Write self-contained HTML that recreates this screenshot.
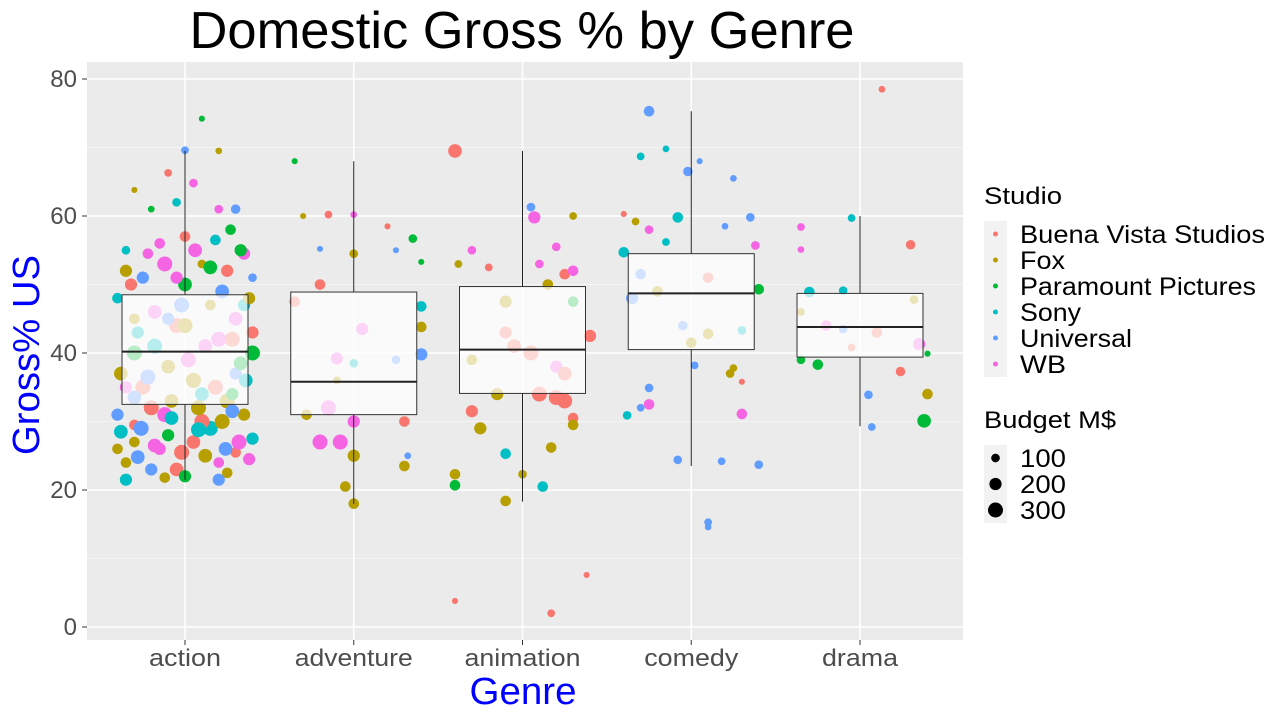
<!DOCTYPE html>
<html><head><meta charset="utf-8"><style>
body{margin:0;background:#fff}
svg text{font-family:"Liberation Sans",Arial,sans-serif}
</style></head><body>
<svg id="chart" width="1280" height="720" xmlns="http://www.w3.org/2000/svg">
<rect width="1280" height="720" fill="#fff"/>
<text x="522" y="48" font-size="52" text-anchor="middle" textLength="665" lengthAdjust="spacingAndGlyphs">Domestic Gross % by Genre</text>
<rect x="87" y="62" width="876" height="578" fill="#EBEBEB"/>
<g id="grid"></g><g id="pts"></g><g id="boxes"></g><g id="axes"></g>
<text x="523" y="704" font-size="38" fill="#0000ff" text-anchor="middle" textLength="107" lengthAdjust="spacingAndGlyphs">Genre</text>
<text transform="translate(39,355) rotate(-90)" font-size="38" fill="#0000ff" text-anchor="middle" textLength="200" lengthAdjust="spacingAndGlyphs">Gross% US</text>
<g id="legend"></g>
</svg>
<script>
const categories=["action","adventure","animation","comedy","drama"];
const catWidths=[72,118,116,94,76];
const studios=["Buena Vista Studios","Fox","Paramount Pictures","Sony","Universal","WB"];
const studioWidths=[245,45,236,61,112,46];
const studioColors=["#F8766D","#B79F00","#00BA38","#00BFC4","#619CFF","#F564E3"];
const yTicks=[0,20,40,60,80];
const sizeTicks=[100,200,300];
// box stats: [lowerWhisker,q1,median,q3,upperWhisker]
const boxStats=[[21.5,32.5,40.2,48.5,69.5],[18,31,35.8,48.9,68],[18.3,34.1,40.5,49.7,69.5],[23.5,40.5,48.7,54.5,75.3],[29.3,39.4,43.8,48.7,60]];
// points: genre, jitter, value, studio, budget
const points=[
[0,-0.3,29.5,0,150],[0,0.1,74.2,2,50],[0,0.2,69.5,1,60],[0,0,69.6,4,80],[0,-0.1,66.3,0,80],[0,0.05,64.8,5,100],[0,-0.3,63.8,1,50],[0,0.3,61,4,120],[0,0.2,61,5,100],[0,-0.2,61,2,60],[0,-0.35,55,3,100],[0,0.35,54.5,5,200],[0,0.33,55,2,200],[0,-0.15,56,5,150],[0,0.1,53,1,100],[0,0.25,52,0,200],[0,-0.25,51,4,200],[0,0.4,51,4,100],[0,0,50,2,250],[0,-0.4,48,3,150],[0,0.15,47,1,150],[0,-0.05,44,0,300],[0,0.2,42,5,300],[0,-0.3,40,2,300],[0,0.4,40,2,300],[0,-0.1,38,1,250],[0,0.3,37,4,200],[0,-0.35,35,5,200],[0,0.1,34,3,250],[0,-0.2,32,0,300],[0,0.25,33,1,300],[0,-0.4,31,4,200],[0,0.35,31,1,200],[0,0.15,29,3,300],[0,-0.1,28,2,200],[0,0.4,27.5,3,200],[0,-0.3,27,1,150],[0,0.05,27,0,250],[0,-0.15,26,5,200],[0,0.3,25.5,0,150],[0,-0.35,24,1,150],[0,0.2,24,5,150],[0,-0.2,23,4,200],[0,-0.05,23,0,250],[0,-0.35,21.5,3,200],[0,0.2,21.5,4,200],[0,0,22,2,200],[0,-0.25,35,0,300],[0,0.05,36,1,300],[0,0.1,30,0,300],[0,-0.1,45,4,200],[0,0.3,45,5,250],[0,0.38,24.5,5,200],[0,-0.22,54.5,5,150],[0,0.0,57,0,150],[0,0.27,58,2,150],[0,-0.05,51,5,200],[0,0.22,49,4,250],[0,-0.3,45,1,150],[0,-0.38,28.5,3,250],[0,0.08,28.8,3,300],[0,-0.18,26.5,5,250],[0,0.28,34,2,200],[0,-0.08,33,1,250],[0,0.12,41,5,250],[0,-0.28,43,3,200],[0,0.35,47,3,200],
[0,-0.12,53,5,300],[0,0.06,55,5,250],[0,0.18,56.5,3,150],[0,-0.32,50,0,200],[0,0.38,48,1,200],[0,-0.02,47,4,300],[0,0.28,42,0,300],[0,-0.18,41,3,300],[0,0.02,39,5,300],[0,-0.38,37,1,250],[0,0.36,36,3,250],[0,-0.12,31,5,300],[0,0.22,30,1,300],[0,-0.26,29,4,300],[0,0.12,25,1,250],[0,-0.02,25.5,0,300],[0,0.32,27,5,300],[0,-0.4,26,1,150],[0,0.25,22.5,1,150],[0,-0.12,21.8,1,150],[0,0.15,52.5,2,250],[0,-0.35,52,1,200],[0,0.4,43,0,200],[0,-0.05,62,3,100],[0,0.33,38.5,2,250],[0,-0.22,36.5,4,300],[0,0.18,35,0,300],[0,-0.08,30.5,3,250],[0,0.08,32,1,300],[0,0.28,31.5,4,250],[0,-0.3,33.5,4,250],[0,0.0,44,1,300],[0,-0.18,46,5,250],[0,0.24,26,4,250],[0,-0.28,24.8,4,250],
[1,-0.35,68,2,50],[1,-0.3,60,1,50],[1,-0.15,60.2,0,80],[1,0.0,60.2,5,60],[1,-0.2,55.2,4,50],[1,0,54.5,1,100],[1,0.2,58.5,0,50],[1,0.35,56.7,2,100],[1,0.25,55,4,50],[1,0.4,53.3,2,50],[1,-0.35,47.5,0,150],[1,-0.2,50,0,150],[1,0.4,46.8,3,150],[1,0.4,43.8,1,150],[1,0.4,39.8,4,200],[1,0.05,43.5,5,200],[1,-0.1,39.2,5,200],[1,0,38.5,3,100],[1,-0.1,36,1,80],[1,-0.15,32,5,300],[1,0,30,5,200],[1,-0.2,27,5,300],[1,0.3,30,0,150],[1,0,25,1,200],[1,0.3,23.5,1,150],[1,0.32,25,4,60],[1,-0.05,20.5,1,150],[1,0,18,1,150],[1,0.25,39,4,100],[1,-0.08,27,5,300],[1,-0.28,31,1,150],
[2,-0.4,69.5,0,250],[2,-0.38,53,1,80],[2,-0.3,55,5,100],[2,0.05,61.3,4,100],[2,0.07,59.8,5,200],[2,0.3,60,1,80],[2,0.2,55.5,5,100],[2,-0.2,52.5,0,80],[2,0.1,53,5,100],[2,0.25,51.5,0,150],[2,0.15,50,1,150],[2,-0.1,47.5,1,200],[2,0.3,47.5,2,150],[2,0.4,42.5,0,200],[2,-0.3,39,1,150],[2,0.05,40,0,300],[2,-0.05,41,0,250],[2,0.2,38,5,200],[2,0.25,37,0,250],[2,0.1,34,0,300],[2,0.2,33.5,0,300],[2,-0.3,31.5,0,200],[2,-0.25,29,1,200],[2,0.3,30.5,0,150],[2,0.3,29.5,1,150],[2,0.17,26.2,1,150],[2,-0.1,25.3,3,150],[2,0.12,20.5,3,150],[2,-0.4,22.3,1,150],[2,-0.4,20.7,2,150],[2,-0.1,18.4,1,150],[2,0,22.3,1,100],[2,-0.4,3.8,0,50],[2,0.38,7.6,0,50],[2,0.17,2,0,80],[2,0.25,33,0,300],[2,-0.15,34,1,200],[2,0.3,52,5,150],[2,-0.1,43,0,200],
[3,-0.25,75.3,4,150],[3,-0.3,68.7,3,80],[3,-0.15,69.8,3,60],[3,0.05,68,4,50],[3,-0.02,66.5,4,120],[3,0.25,65.5,4,60],[3,-0.4,60.3,0,50],[3,-0.33,59.2,1,80],[3,-0.25,58,5,100],[3,-0.15,56.2,3,80],[3,-0.08,59.8,3,150],[3,0.2,58.5,4,60],[3,0.35,59.8,4,100],[3,0.38,55.7,5,100],[3,-0.4,54.7,3,150],[3,-0.3,51.5,4,150],[3,-0.35,48,4,200],[3,0.4,49.3,2,150],[3,0.3,43.3,3,100],[3,-0.05,44,4,120],[3,0.1,42.8,1,150],[3,0.25,37.8,1,80],[3,0.3,35.8,0,50],[3,0.23,37,1,100],[3,0.02,38.2,4,80],[3,-0.25,34.9,4,100],[3,-0.25,32.5,5,150],[3,-0.38,30.9,3,100],[3,-0.3,32,4,80],[3,0.3,31.1,5,150],[3,-0.08,24.4,4,100],[3,0.18,24.2,4,80],[3,0.4,23.7,4,100],[3,0.1,15.3,4,80],[3,0.1,14.6,4,60],[3,0,41.5,1,150],[3,-0.2,49,1,150],[3,0.1,51,0,150],
[4,-0.35,58.4,5,80],[4,-0.35,55.1,5,60],[4,-0.05,59.7,3,80],[4,0.3,55.8,0,120],[4,-0.3,48.9,3,150],[4,-0.1,49.1,3,100],[4,0.32,47.8,1,100],[4,-0.35,46,1,80],[4,-0.1,43.5,4,100],[4,0.1,43,0,150],[4,0.35,41.3,5,200],[4,-0.35,39,2,100],[4,-0.25,38.3,2,150],[4,0.4,39.9,2,50],[4,0.05,33.9,4,100],[4,0.24,37.3,0,120],[4,0.4,34,1,150],[4,0.38,30.1,2,250],[4,0.07,29.2,4,80],[4,0.13,78.5,0,60],[4,-0.05,40.8,0,80],[4,-0.2,44,5,150]
];
const NS="http://www.w3.org/2000/svg";
function mk(p,t,a){const e=document.createElementNS(NS,t);for(const k in a)e.setAttribute(k,a[k]);p.appendChild(e);return e;}
const xs=i=>185+i*168.75;
const ys=v=>627-v*6.85;
const rs=b=>7.5*Math.sqrt(b/300);
const grid=document.getElementById('grid');
for(let v=10;v<=70;v+=20){const l=mk(grid,'line',{x1:87,x2:963,y1:ys(v),y2:ys(v),stroke:'#fff','stroke-width':0.8,opacity:0.6});

}
yTicks.forEach(v=>{const l=mk(grid,'line',{x1:87,x2:963,y1:ys(v),y2:ys(v),stroke:'#fff','stroke-width':1.5});

});
categories.forEach((c,i)=>{const l=mk(grid,'line',{x1:xs(i),x2:xs(i),y1:62,y2:640,stroke:'#fff','stroke-width':1.5});

});
const pg=document.getElementById('pts');
points.forEach(p=>{const c=mk(pg,'circle',{cx:xs(p[0]+p[1]),cy:ys(p[2]),r:rs(p[4]),fill:studioColors[p[3]]});

});
const bg=document.getElementById('boxes');
boxStats.forEach((s,i)=>{const x=xs(i),hw=63;
const w1=mk(bg,'line',{x1:x,x2:x,y1:ys(s[0]),y2:ys(s[1]),stroke:'#222','stroke-width':1});


const w2=mk(bg,'line',{x1:x,x2:x,y1:ys(s[3]),y2:ys(s[4]),stroke:'#222','stroke-width':1});


const r=mk(bg,'rect',{x:x-hw,y:ys(s[3]),width:hw*2,height:ys(s[1])-ys(s[3]),fill:'#fff','fill-opacity':0.72,stroke:'#333','stroke-width':1});


const m=mk(bg,'line',{x1:x-hw,x2:x+hw,y1:ys(s[2]),y2:ys(s[2]),stroke:'#222','stroke-width':2});

});
const ax=document.getElementById('axes');
yTicks.forEach(v=>{const t=mk(ax,'text',{x:77,y:ys(v)+8,'font-size':24,fill:'#4d4d4d','text-anchor':'end'});t.textContent=v;


const k=mk(ax,'line',{x1:82,x2:87,y1:ys(v),y2:ys(v),stroke:'#333'});

});
categories.forEach((c,i)=>{const t=mk(ax,'text',{x:xs(i),y:666,'font-size':24,fill:'#4d4d4d','text-anchor':'middle',textLength:catWidths[i],lengthAdjust:'spacingAndGlyphs'});t.textContent=c;


const k=mk(ax,'line',{x1:xs(i),x2:xs(i),y1:640,y2:645,stroke:'#333'});

});
const lg=document.getElementById('legend');
const t1=mk(lg,'text',{x:984,y:204,'font-size':24,textLength:78,lengthAdjust:'spacingAndGlyphs'});t1.textContent='Studio';


studios.forEach((s,i)=>{const y=234+i*26;
const b=mk(lg,'rect',{x:984,y:y-13,width:23,height:26,fill:'#F2F2F2'});


const c=mk(lg,'circle',{cx:995.5,cy:y,r:2.5,fill:studioColors[i]});


const t=mk(lg,'text',{x:1020,y:y+9,'font-size':25,textLength:studioWidths[i],lengthAdjust:'spacingAndGlyphs'});t.textContent=s;

});
const t2=mk(lg,'text',{x:984,y:428,'font-size':24,textLength:132,lengthAdjust:'spacingAndGlyphs'});t2.textContent='Budget M$';


sizeTicks.forEach((s,i)=>{const y=458+i*26;
const b=mk(lg,'rect',{x:984,y:y-13,width:23,height:26,fill:'#F2F2F2'});


const c=mk(lg,'circle',{cx:995.5,cy:y,r:rs(s),fill:'#000'});


const t=mk(lg,'text',{x:1020,y:y+9,'font-size':25,textLength:46,lengthAdjust:'spacingAndGlyphs'});t.textContent=s;

});
</script>
</body></html>
